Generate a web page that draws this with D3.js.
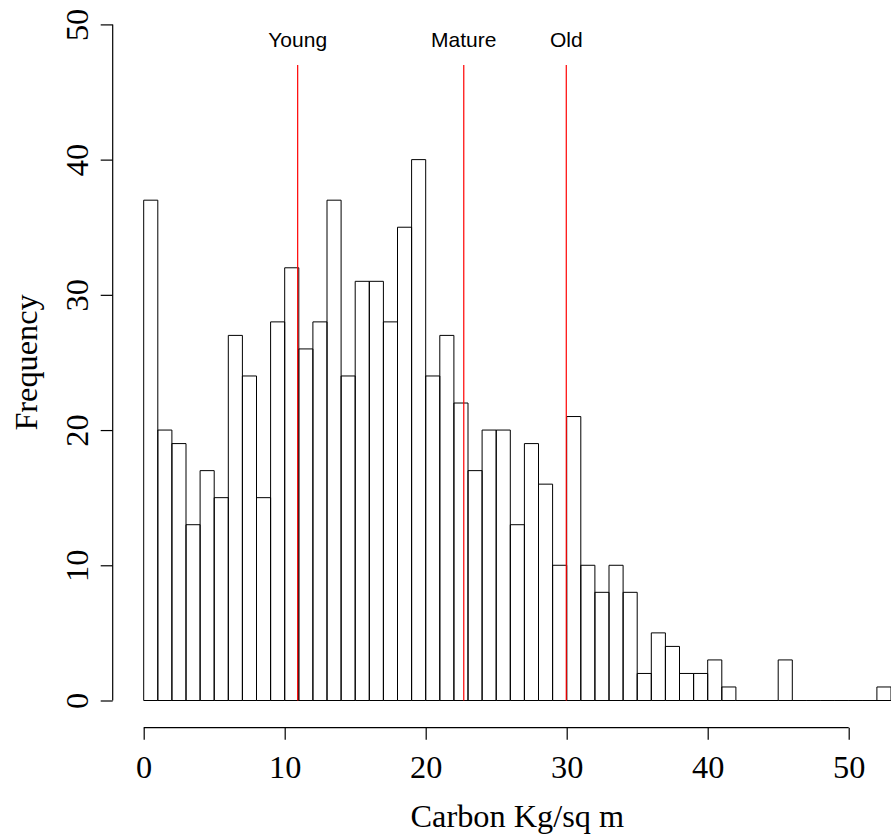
<!DOCTYPE html>
<html>
<head>
<meta charset="utf-8">
<script src="https://cdn.jsdelivr.net/npm/d3@7/dist/d3.min.js"></script>
<style>
  html, body { margin: 0; padding: 0; background: #fff; }
  svg { display: block; }
</style>
</head>
<body>
<svg id="chart" width="891" height="837"></svg>
<script>
// ---- data ----
const binStarts = [0,1,2,3,4,5,6,7,8,9,10,11,12,13,14,15,16,17,18,19,20,21,22,23,24,25,26,27,28,29,30,31,32,33,34,35,36,37,38,39,40,41,42,43,44,45,46,47,48,49,50,51,52];
const binWidth = 1;
const counts = [37,20,19,13,17,15,27,24,15,28,32,26,28,37,24,31,31,28,35,40,24,27,22,17,20,20,13,19,16,10,21,10,8,10,8,2,5,4,2,2,3,1,0,0,0,3,0,0,0,0,0,0,1];
const xTicks = [0,10,20,30,40,50];
const yTicks = [0,10,20,30,40,50];
const markerNames = ["Young","Mature","Old"];
const markerValues = [10.92,22.7,29.97];
const markerTop = 47;
const markerLabelY = 48.3;
const xLabel = "Carbon Kg/sq m";
const yLabel = "Frequency";

// ---- scales ----
const x = d3.scaleLinear().domain([0,50]).range([143.7,848.7]);
const y = d3.scaleLinear().domain([0,50]).range([700.5,24.4]);

const svg = d3.select("#chart");
const serif = "'Liberation Serif','Times New Roman',serif";
const sans = "'Liberation Sans',Arial,Helvetica,sans-serif";
const fs = 32.3;

// ---- bars ----
svg.append("g").selectAll("path").data(binStarts).join("path")
  .attr("d", (s,i) => {
    const x0 = x(s), x1 = x(s + binWidth), y0 = y(0), y1 = y(counts[i]);
    return `M${x0},${y0}V${y1}H${x1}V${y0}Z`;
  })
  .attr("fill", "none")
  .attr("stroke", "#000")
  .attr("stroke-width", 1);

// ---- marker lines ----
svg.append("g").selectAll("line").data(markerValues).join("line")
  .attr("x1", d => x(d)).attr("x2", d => x(d))
  .attr("y1", y(0)).attr("y2", y(markerTop))
  .attr("stroke", "#ff0000").attr("stroke-width", 1.2);

svg.append("g").selectAll("text").data(markerNames).join("text")
  .attr("x", (d,i) => x(markerValues[i]))
  .attr("y", y(markerLabelY))
  .attr("text-anchor", "middle")
  .attr("font-family", sans).attr("font-size", 21)
  .attr("fill", "#000")
  .text(d => d);

// ---- x axis ----
const xAxisY = 727.7;
const xAxis = d3.axisBottom(x).tickValues(xTicks).tickSize(12).tickPadding(0).tickFormat(d3.format("d"));
const gx = svg.append("g").attr("transform", `translate(0,${xAxisY})`).call(xAxis);
gx.select(".domain").attr("d", `M${x(0)},0H${x(50)}`).attr("stroke", "#000").attr("stroke-width", 1.2);
gx.selectAll(".tick line").attr("stroke", "#000").attr("stroke-width", 1.2);
gx.selectAll(".tick text")
  .attr("y", 50).attr("dy", null)
  .attr("font-family", serif).attr("font-size", fs).attr("fill", "#000");

// ---- y axis ----
const yAxisX = 112.7;
const yAxis = d3.axisLeft(y).tickValues(yTicks).tickSize(12).tickFormat(d3.format("d"));
const gy = svg.append("g").attr("transform", `translate(${yAxisX},0)`).call(yAxis);
gy.select(".domain").attr("d", `M0,${y(0)}V${y(50)}`).attr("stroke", "#000").attr("stroke-width", 1.2);
gy.selectAll(".tick line").attr("stroke", "#000").attr("stroke-width", 1.2);
gy.selectAll(".tick text").remove();
gy.selectAll(".tick").append("text")
  .attr("transform", "translate(-24.7,0) rotate(-90)")
  .attr("text-anchor", "middle")
  .attr("font-family", serif).attr("font-size", fs).attr("fill", "#000")
  .text(d => d);

// ---- axis titles ----
svg.append("text")
  .attr("x", (x(-2.12) + x(55.12)) / 2).attr("y", 826.7)
  .attr("text-anchor", "middle")
  .attr("font-family", serif).attr("font-size", fs).attr("fill", "#000")
  .text(xLabel);

svg.append("text")
  .attr("transform", `translate(36.7,${y(25)}) rotate(-90)`)
  .attr("text-anchor", "middle")
  .attr("font-family", serif).attr("font-size", fs).attr("fill", "#000")
  .text(yLabel);
</script>
</body>
</html>
